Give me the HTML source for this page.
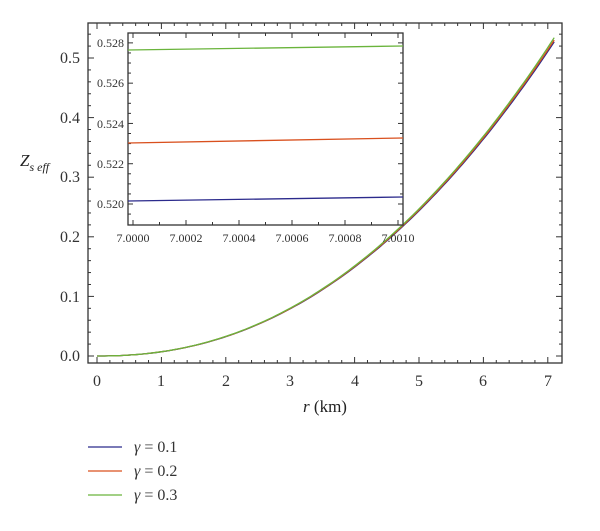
<!DOCTYPE html>
<html><head><meta charset="utf-8"><style>
body{margin:0;background:#fff}
text{font-family:"Liberation Serif","DejaVu Serif",serif}
</style></head><body>
<svg id="s" width="600" height="526" xmlns="http://www.w3.org/2000/svg">
<rect x="88" y="23" width="474" height="340" fill="none" stroke="#333" stroke-width="1.3"/>
<g id="ticks" stroke="#333" stroke-width="1"></g>
<g font-size="16" text-anchor="middle" fill="#333">
<text x="97" y="386">0</text><text x="161" y="386">1</text><text x="226" y="386">2</text><text x="290" y="386">3</text><text x="355" y="386">4</text><text x="419" y="386">5</text><text x="483" y="386">6</text><text x="548" y="386">7</text>
</g>
<g font-size="16" text-anchor="end" fill="#333">
<text x="80" y="361">0.0</text><text x="80" y="302">0.1</text><text x="80" y="242">0.2</text><text x="80" y="182">0.3</text><text x="80" y="123">0.4</text><text x="80" y="63">0.5</text>
</g>
<text x="325" y="412" font-size="17" text-anchor="middle" fill="#222"><tspan font-style="italic">r</tspan> (km)</text>
<text x="20" y="166" font-size="17" font-style="italic" fill="#222">Z<tspan font-size="12" dy="5">s eff</tspan></text>
<path id="cb" fill="none" stroke="#2b2a8c" stroke-width="1.3"/>
<path id="cr" fill="none" stroke="#d9501e" stroke-width="1.3"/>
<path id="cg" fill="none" stroke="#6ab43c" stroke-width="1.3"/>
<rect x="128" y="33" width="275" height="192" fill="#fff" stroke="#333" stroke-width="1.3"/>
<g id="iticks" stroke="#333" stroke-width="1"></g>
<g font-size="12" text-anchor="end" fill="#333">
<text x="124" y="47">0.528</text><text x="124" y="87">0.526</text><text x="124" y="128">0.524</text><text x="124" y="168">0.522</text><text x="124" y="208">0.520</text>
</g>
<g font-size="12" text-anchor="middle" fill="#333">
<text x="133" y="242">7.0000</text><text x="186" y="242">7.0002</text><text x="239" y="242">7.0004</text><text x="292" y="242">7.0006</text><text x="345" y="242">7.0008</text><text x="398" y="242">7.0010</text>
</g>
<line x1="128" y1="201" x2="403" y2="197" stroke="#2b2a8c" stroke-width="1.3"/>
<line x1="128" y1="143" x2="403" y2="138" stroke="#d9501e" stroke-width="1.3"/>
<line x1="128" y1="50" x2="403" y2="46" stroke="#6ab43c" stroke-width="1.3"/>
<line x1="88" y1="447" x2="122" y2="447" stroke="#2b2a8c" stroke-width="1.3"/>
<line x1="88" y1="471" x2="122" y2="471" stroke="#d9501e" stroke-width="1.3"/>
<line x1="88" y1="495" x2="122" y2="495" stroke="#6ab43c" stroke-width="1.3"/>
<g font-size="16" fill="#333">
<text x="134" y="452"><tspan font-style="italic">γ</tspan> = 0.1</text>
<text x="134" y="476"><tspan font-style="italic">γ</tspan> = 0.2</text>
<text x="134" y="500"><tspan font-style="italic">γ</tspan> = 0.3</text>
</g>
</svg>
<script>
function path(end){let d="";for(let i=0;i<=120;i++){let r=7.1*i/120;let z=end*Math.pow(r/7.1,2.2);d+=(i?"L":"M")+(97+r*64.4).toFixed(1)+" "+(356-z*596).toFixed(1);}return d;}
document.getElementById("cb").setAttribute("d",path(0.527));
document.getElementById("cr").setAttribute("d",path(0.530));
document.getElementById("cg").setAttribute("d",path(0.534));
let t="";
for(let i=0;i<=7;i++){let x=97+i*64.4;t+=`<line x1="${x}" y1="363" x2="${x}" y2="357"/><line x1="${x}" y1="23" x2="${x}" y2="29"/>`;}
for(let i=0;i<36;i++){let x=97+i*64.4/5;if(i%5)t+=`<line x1="${x}" y1="363" x2="${x}" y2="360"/><line x1="${x}" y1="23" x2="${x}" y2="26"/>`;}
for(let i=0;i<28;i++){let y=356-i*59.6/5;let l=i%5?3:6;t+=`<line x1="88" y1="${y}" x2="${88+l}" y2="${y}"/><line x1="562" y1="${y}" x2="${562-l}" y2="${y}"/>`;}
document.getElementById("ticks").innerHTML=t;
let u="";
for(let i=0;i<=10;i++){let x=133+i*26.5;let l=i%2?3:5;u+=`<line x1="${x}" y1="225" x2="${x}" y2="${225-l}"/><line x1="${x}" y1="33" x2="${x}" y2="${33+l}"/>`;}
for(let i=-2;i<=18;i++){let y=204-i*10.07;if(y<34||y>224)continue;let l=i%4?3:5;u+=`<line x1="128" y1="${y}" x2="${128+l}" y2="${y}"/><line x1="403" y1="${y}" x2="${403-l}" y2="${y}"/>`;}
document.getElementById("iticks").innerHTML=u;
</script>
</body></html>
